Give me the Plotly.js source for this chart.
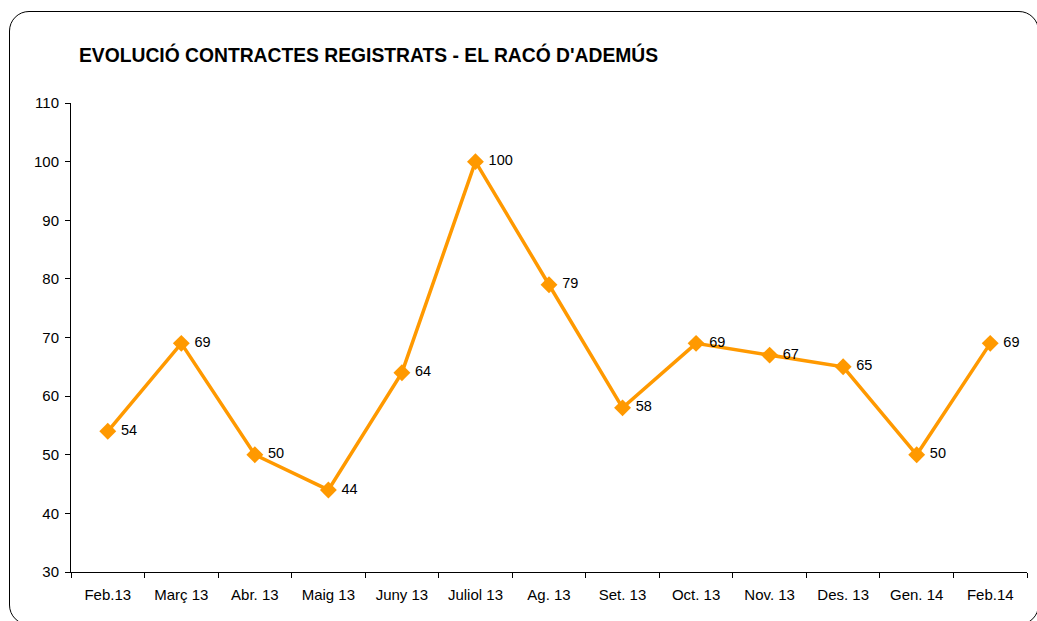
<!DOCTYPE html>
<html>
<head>
<meta charset="utf-8">
<script src="https://cdn.plot.ly/plotly-3.0.1.min.js"></script>
<style>
  body { margin: 0; background: #fff; }
  #frame {
    position: absolute; left: 9px; top: 11px; width: 1030px; height: 614px;
    border: 1px solid #000; border-radius: 20px; box-sizing: border-box;
  }
  #chart { position: absolute; left: 0; top: 0; width: 1037px; height: 621px; }
</style>
</head>
<body>
<div id="frame"></div>
<div id="chart"></div>
<script>
// Contractes registrats per mes
const months = ['Feb.13', 'Març 13', 'Abr. 13', 'Maig 13', 'Juny 13', 'Juliol 13', 'Ag. 13',
                'Set. 13', 'Oct. 13', 'Nov. 13', 'Des. 13', 'Gen. 14', 'Feb.14'];
const contracts = [54, 69, 50, 44, 64, 100, 79, 58, 69, 67, 65, 50, 69];

const trace = {
    x: months,
    y: contracts,
    type: 'scatter',
    mode: 'lines+markers+text',
    text: contracts.map(v => ' ' + v),
    textposition: 'middle right',
    textfont: { family: 'Liberation Sans, Arial, sans-serif', size: 14.5, color: '#000' },
    line: { color: '#FF9900', width: 3.5 },
    marker: { symbol: 'diamond', size: 13, color: '#FF9900' },
    cliponaxis: false,
    hoverinfo: 'x+y'
};

const layout = {
    width: 1037,
    height: 621,
    margin: { l: 71, r: 10, t: 103, b: 49 },
    paper_bgcolor: 'rgba(0,0,0,0)',
    plot_bgcolor: 'rgba(0,0,0,0)',
    showlegend: false,
    font: { family: 'Liberation Sans, Arial, sans-serif', size: 15, color: '#000' },
    title: {
        text: "<b>EVOLUCIÓ CONTRACTES REGISTRATS - EL RACÓ D'ADEMÚS</b>",
        font: { size: 19.3, color: '#000' },
        xref: 'container', yref: 'container',
        x: 79 / 1037, xanchor: 'left',
        y: 1 - 55 / 621, yanchor: 'middle'
    },
    xaxis: {
        type: 'category',
        range: [-0.5, 12.5],
        showline: true, linecolor: '#000', linewidth: 1,
        ticks: 'outside', tickson: 'boundaries', ticklen: 5, tickcolor: '#000',
        ticklabelstandoff: 9,
        showgrid: false, zeroline: false,
        tickfont: { size: 15 }
    },
    yaxis: {
        range: [30, 110],
        dtick: 10,
        showline: true, linecolor: '#000', linewidth: 1,
        ticks: 'outside', ticklen: 5, tickcolor: '#000',
        ticklabelstandoff: 3,
        showgrid: false, zeroline: false,
        tickfont: { size: 15 }
    }
};

Plotly.newPlot('chart', [trace], layout, { displayModeBar: false, staticPlot: true });
</script>
</body>
</html>
